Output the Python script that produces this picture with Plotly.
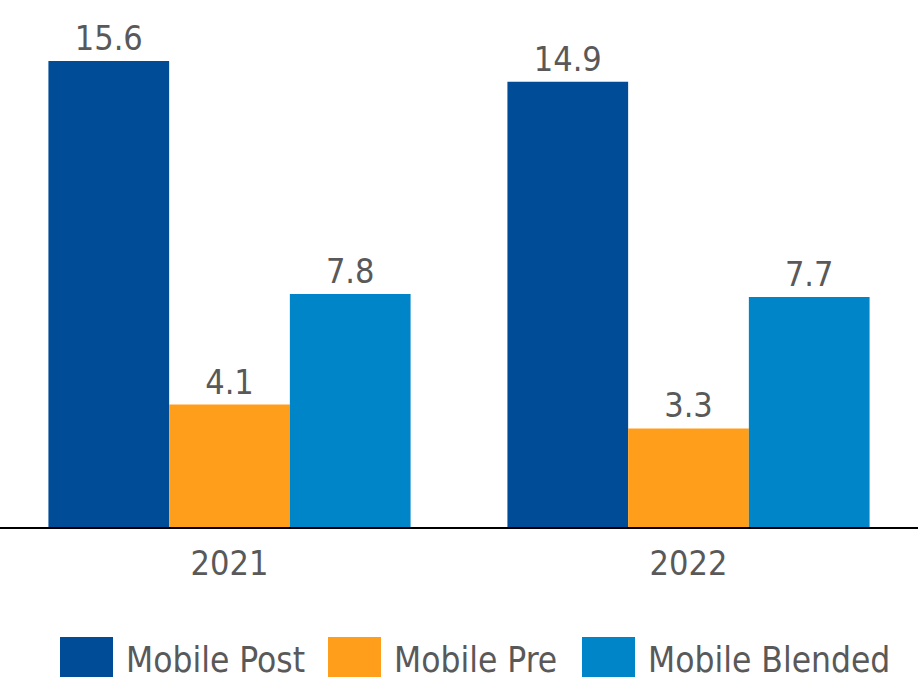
import plotly.graph_objects as go

years = ["2021", "2022"]
mobile_post = [15.6, 14.9]
mobile_pre = [4.1, 3.3]
mobile_blended = [7.8, 7.7]
series_names = ["Mobile Post", "Mobile Pre", "Mobile Blended"]
colors = ["#004C97", "#FF9E1B", "#0085C8"]

FONT = "DejaVu Sans Condensed, DejaVu Sans, sans-serif"
TXT = "#595959"

fig = go.Figure()
for name, vals, col in zip(series_names, [mobile_post, mobile_pre, mobile_blended], colors):
    fig.add_trace(go.Bar(
        x=years, y=vals, name=name, marker=dict(color=col, line=dict(width=0)),
        text=[f"{v:.1f}" for v in vals], textposition="outside",
        textfont=dict(size=34, color=TXT, family=FONT),
        cliponaxis=False, showlegend=False,
    ))

# custom legend (large square swatches)
leg_x = [60, 328, 582]
for name, col, x0 in zip(series_names, colors, leg_x):
    fig.add_shape(type="rect", xref="paper", yref="paper",
                  x0=x0 / 918, x1=(x0 + 53) / 918,
                  y0=(527 - 677) / 527, y1=(527 - 637) / 527,
                  fillcolor=col, line=dict(width=0))
    fig.add_annotation(xref="paper", yref="paper", x=(x0 + 64) / 918,
                       y=(527 - 660) / 527, text=name, showarrow=False,
                       xanchor="left", yanchor="middle",
                       font=dict(size=35, color=TXT, family=FONT))

fig.update_layout(
    width=924, height=685,
    margin=dict(l=0, r=6, t=0, b=158),
    paper_bgcolor="white", plot_bgcolor="white",
    barmode="group", bargap=0.211, bargroupgap=0,
    font=dict(family=FONT, color=TXT, size=34),
    xaxis=dict(showline=True, linecolor="black", linewidth=2,
               ticks="", ticklabelstandoff=5,
               tickfont=dict(size=34, color=TXT, family=FONT),
               showgrid=False, range=[-0.5, 1.5]),
    yaxis=dict(visible=False, range=[0, 17.64], showgrid=False, zeroline=False),
)

fig.write_html("out.html", config={"displayModeBar": False},
               post_script="document.body.style.margin='0';")
